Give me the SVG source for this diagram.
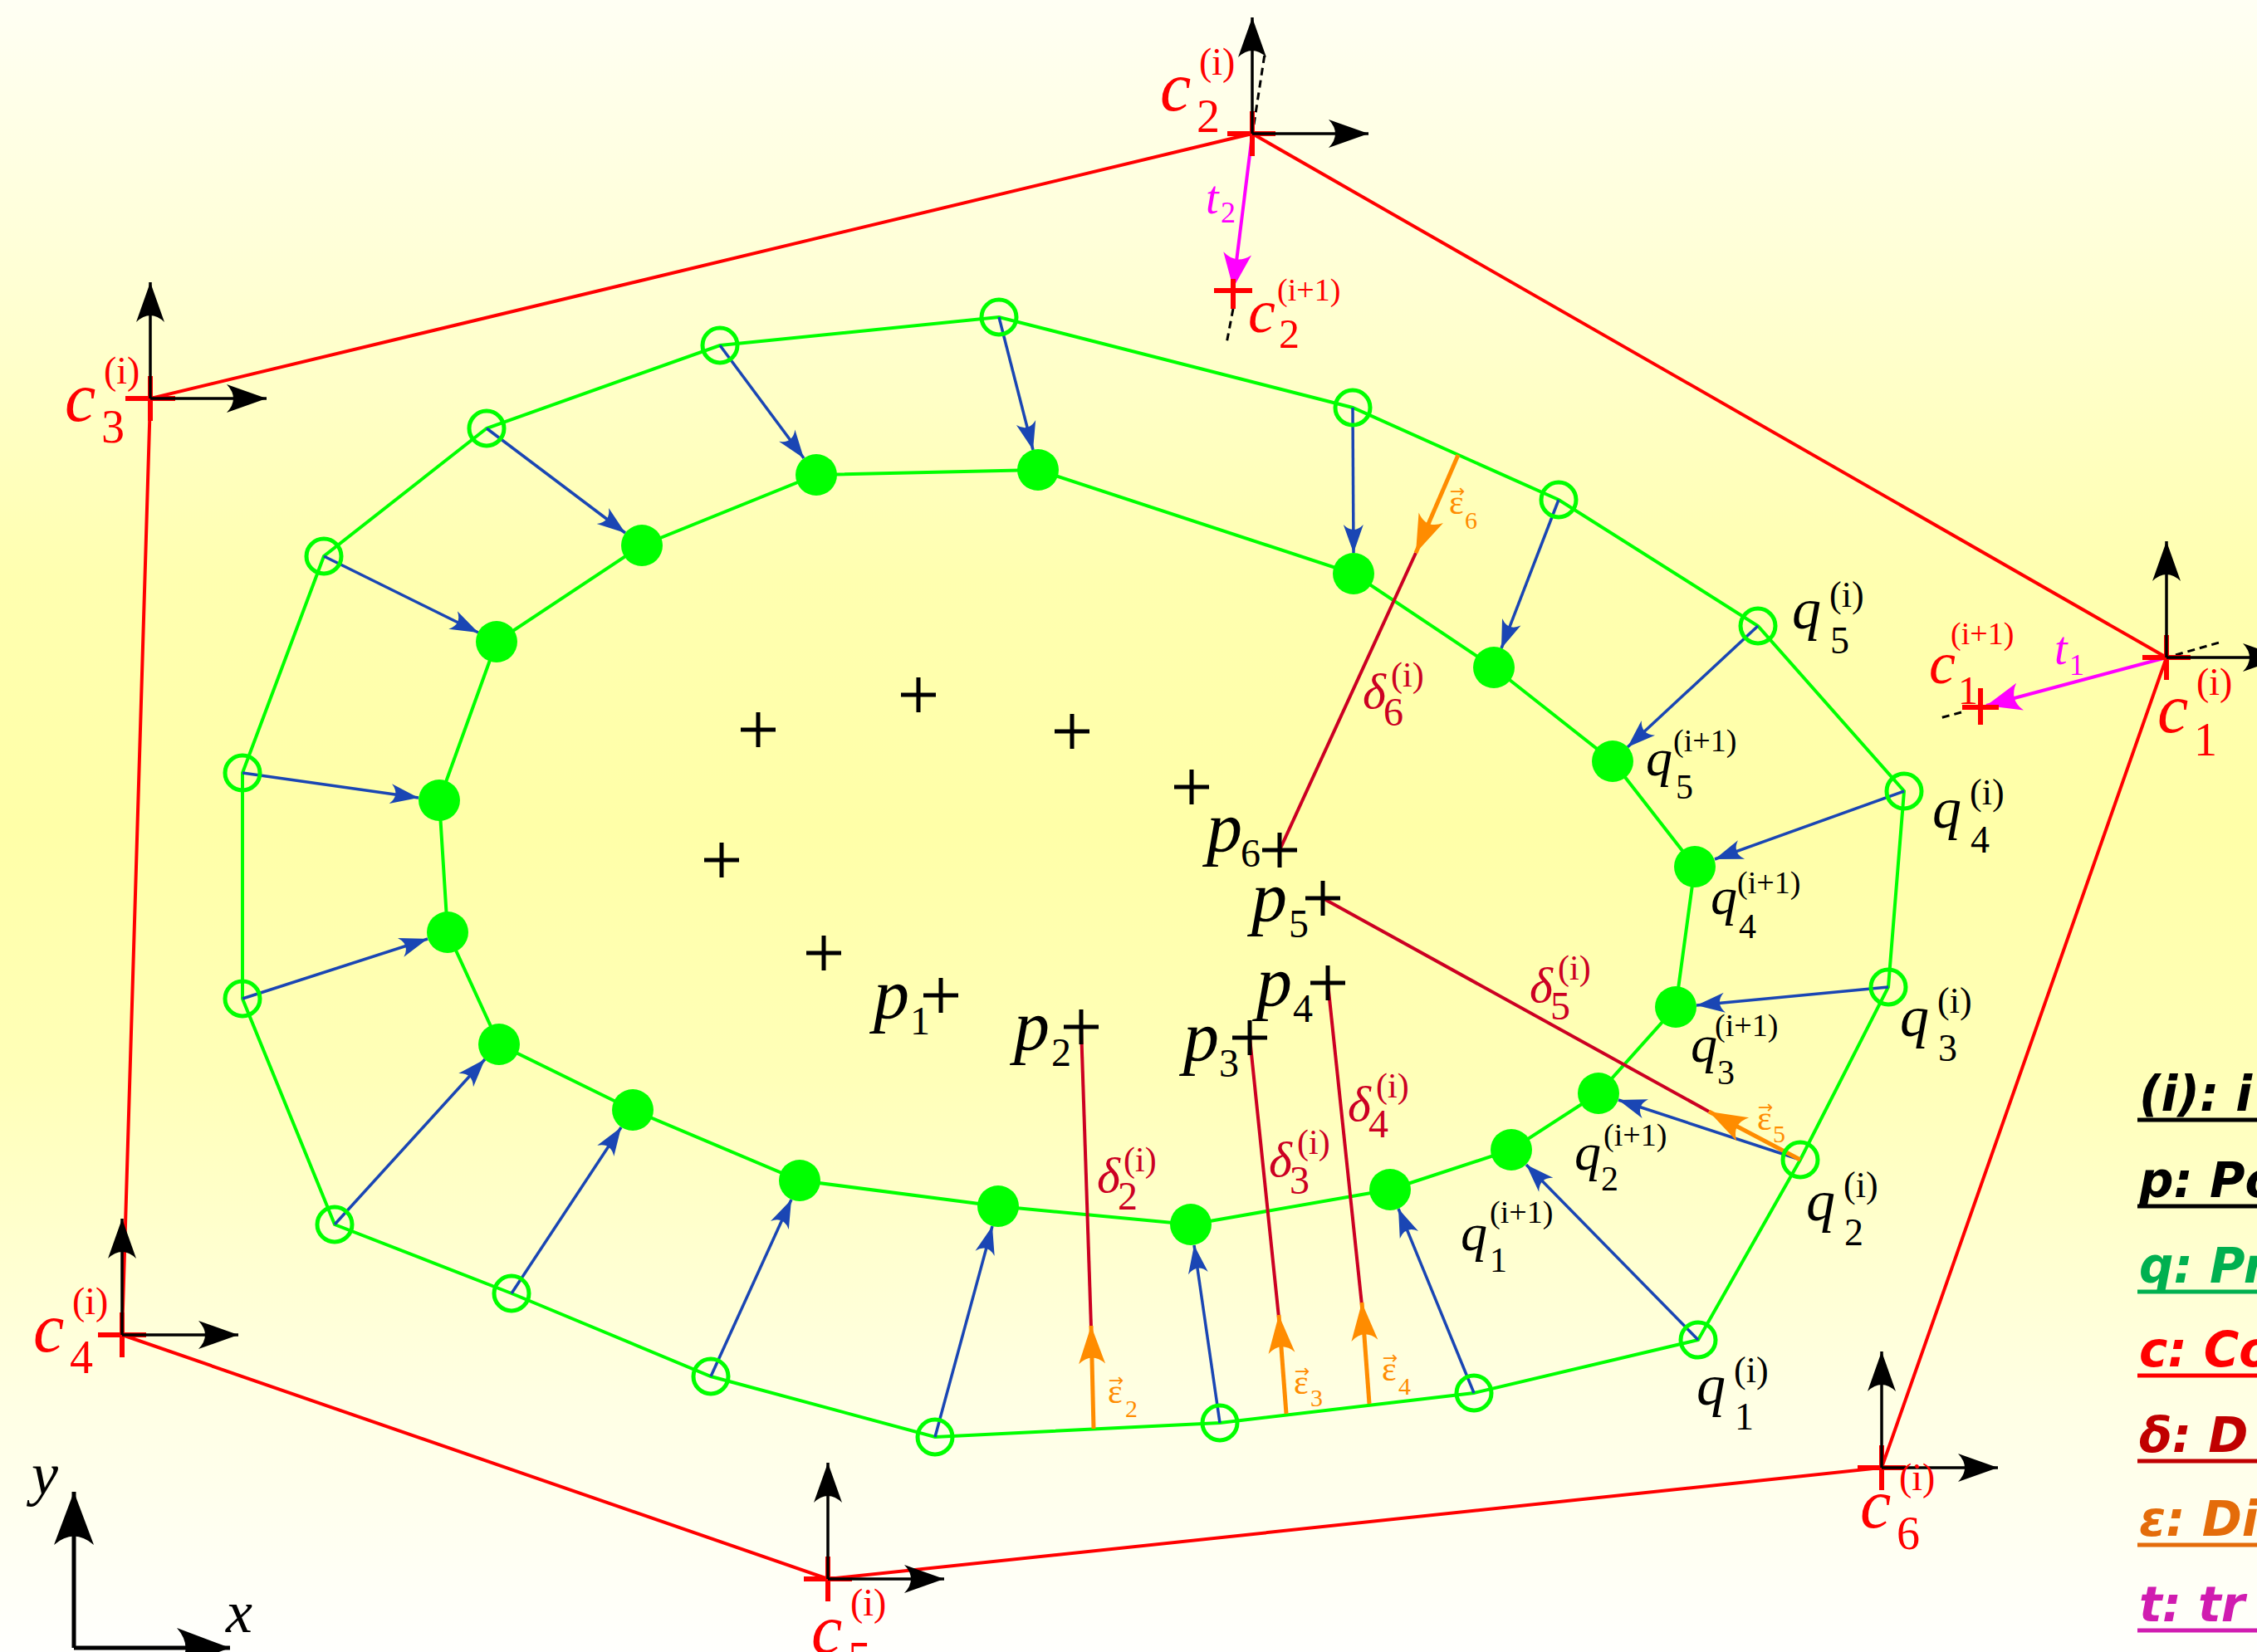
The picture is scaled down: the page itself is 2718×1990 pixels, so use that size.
<svg xmlns="http://www.w3.org/2000/svg" width="2718" height="1990" viewBox="0 0 2718 1990">
<defs>
<linearGradient id="bg" x1="0" y1="0" x2="0" y2="1">
<stop offset="0" stop-color="#fffff4"/>
<stop offset="0.15" stop-color="#ffffd8"/>
<stop offset="0.35" stop-color="#ffffb0"/>
<stop offset="0.5" stop-color="#ffffa8"/>
<stop offset="0.65" stop-color="#ffffb8"/>
<stop offset="0.85" stop-color="#ffffe4"/>
<stop offset="1" stop-color="#fffffd"/>
</linearGradient>
<marker id="mAx" markerUnits="userSpaceOnUse" viewBox="-52 -20 56 40" markerWidth="56" markerHeight="40" refX="0" refY="0" orient="auto" overflow="visible"><path d="M0,0 L-48,-17 Q-32,0 -48,17 Z" fill="#000"/></marker>
<marker id="mBig" markerUnits="userSpaceOnUse" viewBox="-70 -26 74 52" markerWidth="74" markerHeight="52" refX="0" refY="0" orient="auto" overflow="visible"><path d="M0,0 L-64,-24 Q-43,0 -64,24 Z" fill="#000"/></marker>
<marker id="mBlue" markerUnits="userSpaceOnUse" viewBox="-38 -15 42 30" markerWidth="42" markerHeight="30" refX="0" refY="0" orient="auto" overflow="visible"><path d="M0,0 L-34,-12 Q-22,0 -34,12 Z" fill="#1a46b4"/></marker>
<marker id="mOr" markerUnits="userSpaceOnUse" viewBox="-50 -18 54 36" markerWidth="54" markerHeight="36" refX="0" refY="0" orient="auto" overflow="visible"><path d="M0,0 L-46,-16 Q-31,0 -46,16 Z" fill="#ff8c00"/></marker>
<marker id="mMag" markerUnits="userSpaceOnUse" viewBox="-46 -20 50 40" markerWidth="50" markerHeight="40" refX="0" refY="0" orient="auto" overflow="visible"><path d="M0,0 L-42,-17 Q-28,0 -42,17 Z" fill="#ff00ff"/></marker>
<style>
text{font-family:"Liberation Serif","Times New Roman",serif}
.mi{font-style:italic}
.red{stroke:#ff0000;stroke-width:4;fill:none}
.grn{stroke:#00ff00;stroke-width:4;fill:none}
.blue{stroke:#1a46b4;stroke-width:3.5;fill:none}
.dl{stroke:#cc0022;stroke-width:4;fill:none}
.or{stroke:#ff8c00;stroke-width:5;fill:none}
.mag{stroke:#ff00ff;stroke-width:4;fill:none}
.dash{stroke:#000;stroke-width:3;stroke-dasharray:9 6;fill:none}
.ax{stroke:#000;stroke-width:3.5;fill:none}
.xc{stroke:#ff0000;stroke-width:6;fill:none}
.pc{stroke:#000;stroke-width:5;fill:none}
.oc{stroke:#00ff00;stroke-width:5;fill:none}
.ic{fill:#00ff00}
.cl{fill:#ff0000}
.ql{fill:#000}
.dlt{fill:#cc0022}
.eps text{fill:#ff8c00}
.arr{font-family:"DejaVu Sans",sans-serif}
.lg text{font-family:"DejaVu Sans",sans-serif;font-weight:bold;font-style:oblique;font-size:58px}
.ul{stroke-width:5}
</style>
</defs>
<rect x="0" y="0" width="2718" height="1990" fill="url(#bg)"/>

<g id="connectors">
<polygon class="red" points="2609,792 1508,161 181,480 147,1608 997,1902 2266,1768"/>
<polygon class="grn" points="867,416 1203,382 1629,491 1877,602 2117,754 2293,953 2274,1189 2168,1397 2045,1614 1775,1678 1469,1714 1126,1731 856,1658 616,1558 403,1475 292,1203 292,931 390,670 586,516"/>
<polygon class="grn" points="983,572 1250,566 1630,691 1799,804 1942,917 2041,1044 2018,1213 1925,1317 1820,1385 1674,1433 1434,1475 1202,1453 963,1422 762,1337 601,1258 539,1123 529,964 598,773 773,657"/>
<g id="displacements" marker-end="url(#mBlue)">
<line class="blue" x1="867" y1="416" x2="968" y2="552"/>
<line class="blue" x1="1203" y1="382" x2="1244" y2="542"/>
<line class="blue" x1="1629" y1="491" x2="1630" y2="666"/>
<line class="blue" x1="1877" y1="602" x2="1808" y2="781"/>
<line class="blue" x1="2117" y1="754" x2="1960" y2="900"/>
<line class="blue" x1="2293" y1="953" x2="2065" y2="1035"/>
<line class="blue" x1="2274" y1="1189" x2="2043" y2="1211"/>
<line class="blue" x1="2168" y1="1397" x2="1949" y2="1325"/>
<line class="blue" x1="2045" y1="1614" x2="1838" y2="1403"/>
<line class="blue" x1="1775" y1="1678" x2="1684" y2="1456"/>
<line class="blue" x1="1469" y1="1714" x2="1438" y2="1500"/>
<line class="blue" x1="1126" y1="1731" x2="1195" y2="1477"/>
<line class="blue" x1="856" y1="1658" x2="953" y2="1445"/>
<line class="blue" x1="616" y1="1558" x2="748" y2="1358"/>
<line class="blue" x1="403" y1="1475" x2="584" y2="1276"/>
<line class="blue" x1="292" y1="1203" x2="515" y2="1131"/>
<line class="blue" x1="292" y1="931" x2="504" y2="961"/>
<line class="blue" x1="390" y1="670" x2="576" y2="762"/>
<line class="blue" x1="586" y1="516" x2="753" y2="642"/>
</g>
<g id="deltas">
<line class="dl" x1="1302" y1="1237" x2="1314" y2="1600"/>
<line class="dl" x1="1505" y1="1250" x2="1540" y2="1587"/>
<line class="dl" x1="1599" y1="1184" x2="1640" y2="1572"/>
<line class="dl" x1="1593" y1="1082" x2="2058" y2="1339"/>
<line class="dl" x1="1541" y1="1024" x2="1705" y2="666"/>
</g>
<g id="epsilons" marker-end="url(#mOr)">
<line class="or" x1="1317" y1="1721" x2="1314" y2="1597"/>
<line class="or" x1="1549" y1="1703" x2="1540" y2="1584"/>
<line class="or" x1="1649" y1="1691" x2="1640" y2="1569"/>
<line class="or" x1="2168" y1="1397" x2="2058" y2="1339"/>
<line class="or" x1="1756" y1="548" x2="1705" y2="666"/>
</g>
<g id="translations" marker-end="url(#mMag)">
<line class="mag" x1="1508" y1="162" x2="1485" y2="347"/>
<line class="mag" x1="2609" y1="792" x2="2392" y2="850"/>
</g>
<g id="rotated-axes">
<line class="dash" x1="1510" y1="150" x2="1523" y2="65"/>
<line class="dash" x1="1485" y1="372" x2="1477" y2="414"/>
<line class="dash" x1="2620" y1="789" x2="2676" y2="773"/>
<line class="dash" x1="2362" y1="858" x2="2336" y2="865"/>
</g>
</g>

<g id="q-outer">
<circle class="oc" cx="867" cy="416" r="21"/>
<circle class="oc" cx="1203" cy="382" r="21"/>
<circle class="oc" cx="1629" cy="491" r="21"/>
<circle class="oc" cx="1877" cy="602" r="21"/>
<circle class="oc" cx="2117" cy="754" r="21"/>
<circle class="oc" cx="2293" cy="953" r="21"/>
<circle class="oc" cx="2274" cy="1189" r="21"/>
<circle class="oc" cx="2168" cy="1397" r="21"/>
<circle class="oc" cx="2045" cy="1614" r="21"/>
<circle class="oc" cx="1775" cy="1678" r="21"/>
<circle class="oc" cx="1469" cy="1714" r="21"/>
<circle class="oc" cx="1126" cy="1731" r="21"/>
<circle class="oc" cx="856" cy="1658" r="21"/>
<circle class="oc" cx="616" cy="1558" r="21"/>
<circle class="oc" cx="403" cy="1475" r="21"/>
<circle class="oc" cx="292" cy="1203" r="21"/>
<circle class="oc" cx="292" cy="931" r="21"/>
<circle class="oc" cx="390" cy="670" r="21"/>
<circle class="oc" cx="586" cy="516" r="21"/>
</g>
<g id="q-inner">
<circle class="ic" cx="983" cy="572" r="25"/>
<circle class="ic" cx="1250" cy="566" r="25"/>
<circle class="ic" cx="1630" cy="691" r="25"/>
<circle class="ic" cx="1799" cy="804" r="25"/>
<circle class="ic" cx="1942" cy="917" r="25"/>
<circle class="ic" cx="2041" cy="1044" r="25"/>
<circle class="ic" cx="2018" cy="1213" r="25"/>
<circle class="ic" cx="1925" cy="1317" r="25"/>
<circle class="ic" cx="1820" cy="1385" r="25"/>
<circle class="ic" cx="1674" cy="1433" r="25"/>
<circle class="ic" cx="1434" cy="1475" r="25"/>
<circle class="ic" cx="1202" cy="1453" r="25"/>
<circle class="ic" cx="963" cy="1422" r="25"/>
<circle class="ic" cx="762" cy="1337" r="25"/>
<circle class="ic" cx="601" cy="1258" r="25"/>
<circle class="ic" cx="539" cy="1123" r="25"/>
<circle class="ic" cx="529" cy="964" r="25"/>
<circle class="ic" cx="598" cy="773" r="25"/>
<circle class="ic" cx="773" cy="657" r="25"/>
</g>

<g id="q-labels" class="ql">
<text><tspan class="mi" x="2158" y="757" font-size="70">q</tspan><tspan x="2204" y="787" font-size="46">5</tspan><tspan x="2203" y="731" font-size="44">(i)</tspan></text>
<text><tspan class="mi" x="2327" y="997" font-size="70">q</tspan><tspan x="2373" y="1027" font-size="46">4</tspan><tspan x="2372" y="969" font-size="44">(i)</tspan></text>
<text><tspan class="mi" x="2288" y="1248" font-size="70">q</tspan><tspan x="2334" y="1278" font-size="46">3</tspan><tspan x="2333" y="1220" font-size="44">(i)</tspan></text>
<text><tspan class="mi" x="2175" y="1470" font-size="70">q</tspan><tspan x="2221" y="1500" font-size="46">2</tspan><tspan x="2220" y="1442" font-size="44">(i)</tspan></text>
<text><tspan class="mi" x="2043" y="1692" font-size="70">q</tspan><tspan x="2089" y="1722" font-size="46">1</tspan><tspan x="2088" y="1665" font-size="44">(i)</tspan></text>
<text><tspan class="mi" x="1982" y="934" font-size="64">q</tspan><tspan x="2018" y="962" font-size="42">5</tspan><tspan x="2015" y="905" font-size="38">(i+1)</tspan></text>
<text><tspan class="mi" x="2060" y="1101" font-size="64">q</tspan><tspan x="2094" y="1130" font-size="42">4</tspan><tspan x="2092" y="1076" font-size="38">(i+1)</tspan></text>
<text><tspan class="mi" x="2036" y="1279" font-size="64">q</tspan><tspan x="2068" y="1306" font-size="42">3</tspan><tspan x="2065" y="1248" font-size="38">(i+1)</tspan></text>
<text><tspan class="mi" x="1896" y="1409" font-size="64">q</tspan><tspan x="1928" y="1434" font-size="42">2</tspan><tspan x="1931" y="1380" font-size="38">(i+1)</tspan></text>
<text><tspan class="mi" x="1759" y="1506" font-size="64">q</tspan><tspan x="1794" y="1532" font-size="42">1</tspan><tspan x="1794" y="1473" font-size="38">(i+1)</tspan></text>
</g>

<g id="p-points">
<path class="pc" d="M892,879 h42 M913,858 v42 M1085,837 h42 M1106,816 v42 M1270,881 h42 M1291,860 v42 M1414,948 h42 M1435,927 v42 M848,1036 h42 M869,1015 v42 M971,1148 h42 M992,1127 v42"/>
<path class="pc" d="M1112,1199 h42 M1133,1178 v42 M1281,1237 h42 M1302,1216 v42 M1484,1250 h42 M1505,1229 v42 M1578,1184 h42 M1599,1163 v42 M1572,1082 h42 M1593,1061 v42 M1520,1024 h42 M1541,1003 v42"/>
<text><tspan class="mi" x="1052" y="1226" font-size="86">p</tspan><tspan x="1096" y="1246" font-size="48">1</tspan></text>
<text><tspan class="mi" x="1221" y="1264" font-size="86">p</tspan><tspan x="1266" y="1284" font-size="48">2</tspan></text>
<text><tspan class="mi" x="1425" y="1277" font-size="86">p</tspan><tspan x="1468" y="1297" font-size="48">3</tspan></text>
<text><tspan class="mi" x="1513" y="1211" font-size="86">p</tspan><tspan x="1557" y="1231" font-size="48">4</tspan></text>
<text><tspan class="mi" x="1507" y="1109" font-size="86">p</tspan><tspan x="1552" y="1129" font-size="48">5</tspan></text>
<text><tspan class="mi" x="1453" y="1025" font-size="86">p</tspan><tspan x="1494" y="1044" font-size="48">6</tspan></text>
</g>

<g id="delta-labels" class="dlt">
<text><tspan class="mi" x="1321" y="1436" font-size="60">δ</tspan><tspan x="1346" y="1457" font-size="48">2</tspan><tspan x="1353" y="1411" font-size="42">(i)</tspan></text>
<text><tspan class="mi" x="1528" y="1417" font-size="60">δ</tspan><tspan x="1553" y="1438" font-size="48">3</tspan><tspan x="1562" y="1390" font-size="42">(i)</tspan></text>
<text><tspan class="mi" x="1623" y="1350" font-size="60">δ</tspan><tspan x="1648" y="1370" font-size="48">4</tspan><tspan x="1657" y="1322" font-size="42">(i)</tspan></text>
<text><tspan class="mi" x="1842" y="1207" font-size="60">δ</tspan><tspan x="1867" y="1228" font-size="48">5</tspan><tspan x="1876" y="1180" font-size="42">(i)</tspan></text>
<text><tspan class="mi" x="1641" y="853" font-size="60">δ</tspan><tspan x="1666" y="874" font-size="48">6</tspan><tspan x="1675" y="827" font-size="42">(i)</tspan></text>
</g>

<g id="eps-labels" class="eps">
<text><tspan class="arr" x="1335" y="1670" font-size="22">→</tspan><tspan x="1334" y="1690" font-size="42">ε</tspan><tspan x="1355" y="1707" font-size="30">2</tspan></text>
<text><tspan class="arr" x="1559" y="1659" font-size="22">→</tspan><tspan x="1558" y="1679" font-size="42">ε</tspan><tspan x="1578" y="1694" font-size="30">3</tspan></text>
<text><tspan class="arr" x="1665" y="1643" font-size="22">→</tspan><tspan x="1664" y="1663" font-size="42">ε</tspan><tspan x="1684" y="1680" font-size="30">4</tspan></text>
<text><tspan class="arr" x="2117" y="1341" font-size="22">→</tspan><tspan x="2116" y="1361" font-size="42">ε</tspan><tspan x="2135" y="1376" font-size="30">5</tspan></text>
<text><tspan class="arr" x="1746" y="599" font-size="22">→</tspan><tspan x="1745" y="619" font-size="42">ε</tspan><tspan x="1764" y="637" font-size="30">6</tspan></text>
</g>

<g id="c1">
<path class="xc" d="M2580,792 h58 M2609,765 v54"/>
<path class="ax" d="M2609,792 V652" marker-end="url(#mAx)"/>
<path class="ax" d="M2609,792 H2749" marker-end="url(#mAx)"/>
<text class="cl"><tspan class="mi" x="2598" y="882" font-size="84">c</tspan><tspan x="2642" y="910" font-size="56">1</tspan><tspan x="2645" y="837" font-size="46">(i)</tspan></text>
</g>
<g id="c1-next">
<path class="xc" d="M2363,852 h44 M2385,829 v44"/>
<text class="cl"><tspan class="mi" x="2323" y="823" font-size="72">c</tspan><tspan x="2358" y="848" font-size="48">1</tspan><tspan x="2349" y="776" font-size="38">(i+1)</tspan></text>
<text fill="#ff00ff"><tspan class="mi" x="2474" y="800" font-size="56">t</tspan><tspan x="2492" y="813" font-size="36">1</tspan></text>
</g>
<g id="c2">
<path class="xc" d="M1478,161 h58 M1508,134 v54"/>
<path class="ax" d="M1508,161 V21" marker-end="url(#mAx)"/>
<path class="ax" d="M1508,161 H1648" marker-end="url(#mAx)"/>
<text class="cl"><tspan class="mi" x="1397" y="133" font-size="84">c</tspan><tspan x="1441" y="159" font-size="56">2</tspan><tspan x="1444" y="90" font-size="46">(i)</tspan></text>
</g>
<g id="c2-next">
<path class="xc" d="M1462,350 h46 M1485,336 v36"/>
<text class="cl"><tspan class="mi" x="1503" y="400" font-size="74">c</tspan><tspan x="1540" y="419" font-size="50">2</tspan><tspan x="1538" y="362" font-size="38">(i+1)</tspan></text>
<text fill="#ff00ff"><tspan class="mi" x="1452" y="257" font-size="56">t</tspan><tspan x="1470" y="268" font-size="36">2</tspan></text>
</g>
<g id="c3">
<path class="xc" d="M151,480 h60 M181,453 v54"/>
<path class="ax" d="M181,480 V340" marker-end="url(#mAx)"/>
<path class="ax" d="M181,480 H321" marker-end="url(#mAx)"/>
<text class="cl"><tspan class="mi" x="78" y="507" font-size="84">c</tspan><tspan x="122" y="533" font-size="56">3</tspan><tspan x="125" y="462" font-size="46">(i)</tspan></text>
</g>
<g id="c4">
<path class="xc" d="M118,1608 h58 M147,1581 v54"/>
<path class="ax" d="M147,1608 V1468" marker-end="url(#mAx)"/>
<path class="ax" d="M147,1608 H287" marker-end="url(#mAx)"/>
<text class="cl"><tspan class="mi" x="40" y="1628" font-size="84">c</tspan><tspan x="84" y="1654" font-size="56">4</tspan><tspan x="87" y="1583" font-size="46">(i)</tspan></text>
</g>
<g id="c5">
<path class="xc" d="M968,1902 h58 M997,1875 v54"/>
<path class="ax" d="M997,1902 V1762" marker-end="url(#mAx)"/>
<path class="ax" d="M997,1902 H1137" marker-end="url(#mAx)"/>
<text class="cl"><tspan class="mi" x="977" y="1991" font-size="84">c</tspan><tspan x="1021" y="2017" font-size="56">5</tspan><tspan x="1024" y="1946" font-size="46">(i)</tspan></text>
</g>
<g id="c6">
<path class="xc" d="M2237,1768 h58 M2266,1741 v54"/>
<path class="ax" d="M2266,1768 V1628" marker-end="url(#mAx)"/>
<path class="ax" d="M2266,1768 H2406" marker-end="url(#mAx)"/>
<text class="cl"><tspan class="mi" x="2240" y="1840" font-size="84">c</tspan><tspan x="2284" y="1866" font-size="56">6</tspan><tspan x="2287" y="1795" font-size="46">(i)</tspan></text>
</g>

<g id="world-axes">
<path d="M89,1985 V1797" stroke="#000" stroke-width="5" fill="none" marker-end="url(#mBig)"/>
<path d="M89,1985 H277" stroke="#000" stroke-width="5" fill="none" marker-end="url(#mBig)"/>
<text class="mi" x="38" y="1800" font-size="72">y</text>
<text class="mi" x="272" y="1966" font-size="72">x</text>
</g>

<g id="legend" class="lg">
<text x="2576" y="1338" fill="#000">(i): i</text>
<line class="ul" x1="2574" y1="1349" x2="2718" y2="1349" stroke="#000"/>
<text x="2576" y="1442" fill="#000">p: Po</text>
<line class="ul" x1="2574" y1="1453" x2="2718" y2="1453" stroke="#000"/>
<text x="2576" y="1545" fill="#00b050">q: Pr</text>
<line class="ul" x1="2574" y1="1556" x2="2718" y2="1556" stroke="#00b050"/>
<text x="2576" y="1646" fill="#ff0000">c: Co</text>
<line class="ul" x1="2574" y1="1657" x2="2718" y2="1657" stroke="#ff0000"/>
<text x="2576" y="1749" fill="#c00000">δ: D</text>
<line class="ul" x1="2574" y1="1760" x2="2718" y2="1760" stroke="#c00000"/>
<text x="2576" y="1850" fill="#e46c0a">ε: Di</text>
<line class="ul" x1="2574" y1="1861" x2="2718" y2="1861" stroke="#e46c0a"/>
<text x="2576" y="1953" fill="#d01cb0">t: tr</text>
<line class="ul" x1="2574" y1="1964" x2="2718" y2="1964" stroke="#d01cb0"/>
</g>
</svg>
